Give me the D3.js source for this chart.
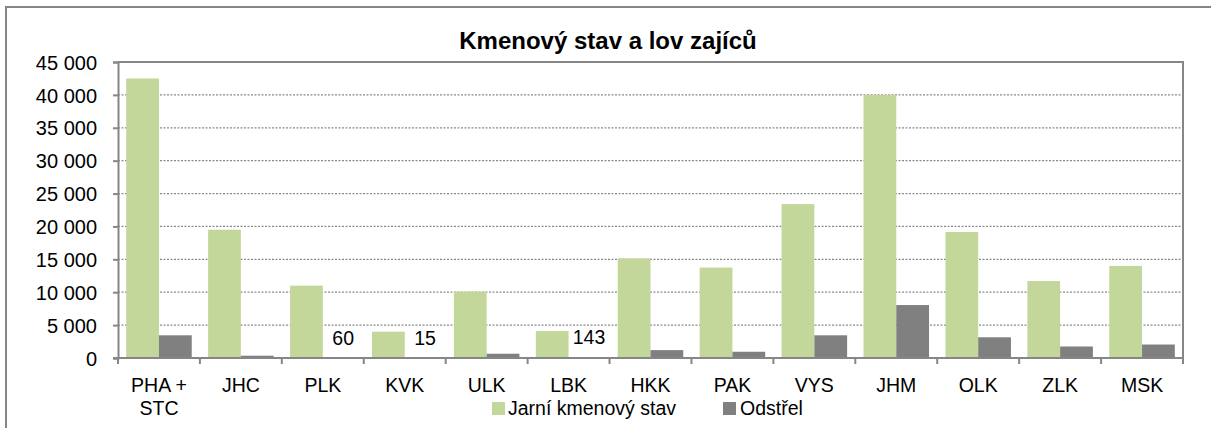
<!DOCTYPE html>
<html><head><meta charset="utf-8">
<script src="https://cdn.jsdelivr.net/npm/d3@7"></script>
<style>body{margin:0;background:#fff}svg{display:block;font-family:Arial,"Liberation Sans",sans-serif}</style>
</head><body><svg id="c" width="1211" height="428"></svg>
<script>
const categories = [["PHA +","STC"],["JHC"],["PLK"],["KVK"],["ULK"],["LBK"],["HKK"],["PAK"],["VYS"],["JHM"],["OLK"],["ZLK"],["MSK"]];
const springStock = [42500,19500,11000,4000,10100,4100,15150,13750,23400,40000,19150,11700,14000];
const harvest = [3450,350,60,15,650,143,1200,950,3450,8050,3150,1750,2050];
const labelledHarvest = [60,15,143];
const yTicks = [0,5000,10000,15000,20000,25000,30000,35000,40000,45000];
const seriesNames = ["Jarní kmenový stav","Odstřel"];
const colors = ["#c4d79b","#808080"];
const title = "Kmenový stav a lov zajíců";

const svg = d3.select("#c");
const L=118, T=62, R=1183, B=358;
const grey="#868686";
const x = d3.scaleBand().domain(d3.range(categories.length)).range([L,R]).paddingInner(0).paddingOuter(0);
const x1 = d3.scaleBand().domain([0,1]).range([0,x.bandwidth()]).paddingOuter(0.25).paddingInner(0);
const y = d3.scaleLinear().domain([0,45000]).range([B,T]);
const fmt = v => d3.format(",")(v).replace(/,/g," ");

// outer border
svg.append("rect").attr("x",6).attr("y",7).attr("width",1220).attr("height",440).attr("fill","none").attr("stroke",grey).attr("stroke-width",2);

// title
svg.append("text").attr("x",608).attr("y",49).attr("text-anchor","middle").attr("font-size",24).attr("font-weight","bold").text(title);

// gridlines
svg.append("g").selectAll("line").data(yTicks.filter(d=>d>0 && d<45000)).join("line")
  .attr("x1",L).attr("x2",R).attr("y1",d=>y(d)).attr("y2",d=>y(d))
  .attr("stroke","#8a8a8a").attr("stroke-width",1.2).attr("stroke-dasharray","2,1.5");

// plot border top/right
svg.append("path").attr("d",`M${L},${T}H${R}V${B}`).attr("fill","none").attr("stroke",grey).attr("stroke-width",2);

// bars
const g = svg.append("g");
[springStock,harvest].forEach((vals,si)=>{
  g.selectAll(null).data(vals).join("rect")
    .attr("x",(d,i)=>x(i)+x1(si)).attr("width",x1.bandwidth())
    .attr("y",d=>y(d)).attr("height",d=>B-y(d)).attr("fill",colors[si]);
});

// y axis
const ya = svg.append("g").attr("transform",`translate(${L},0)`).call(d3.axisLeft(y).tickValues(yTicks).tickFormat(fmt).tickSize(5).tickPadding(16));
ya.select(".domain").attr("stroke",grey).attr("stroke-width",2);
ya.selectAll(".tick line").attr("stroke",grey).attr("stroke-width",2);
ya.selectAll(".tick text").attr("font-size",20).attr("fill","#000").attr("font-family","Arial,'Liberation Sans',sans-serif").attr("dy","0.36em");

// x axis
svg.append("line").attr("x1",L-5).attr("x2",R).attr("y1",B).attr("y2",B).attr("stroke",grey).attr("stroke-width",2);
svg.append("g").selectAll("line").data(d3.range(categories.length+1)).join("line")
  .attr("x1",i=>L+i*x.bandwidth()).attr("x2",i=>L+i*x.bandwidth()).attr("y1",B).attr("y2",B+6)
  .attr("stroke",grey).attr("stroke-width",2);
const xl = svg.append("g").selectAll("text").data(categories).join("text")
  .attr("text-anchor","middle").attr("font-size",19.5)
  .attr("transform",(d,i)=>`translate(${x(i)+x.bandwidth()/2},392)`);
xl.selectAll("tspan").data(d=>d).join("tspan").attr("x",0).attr("dy",(d,j)=>j?23:0).text(d=>d);

// data labels for small harvest values
svg.append("g").selectAll("text").data(harvest.map((v,i)=>({v,i})).filter(d=>labelledHarvest.includes(d.v))).join("text")
  .attr("x",d=>x(d.i)+x1(1)+x1.bandwidth()/2+4).attr("y",d=>y(d.v)-13)
  .attr("text-anchor","middle").attr("font-size",19.5).text(d=>d.v);

// legend
const lg = svg.append("g");
const items=[{n:seriesNames[0],c:colors[0],sx:492,tx:508},{n:seriesNames[1],c:colors[1],sx:723,tx:740}];
items.forEach(it=>{
  lg.append("rect").attr("x",it.sx).attr("y",402).attr("width",13).attr("height",13).attr("fill",it.c);
  lg.append("text").attr("x",it.tx).attr("y",415).attr("font-size",19.5).text(it.n);
});
</script></body></html>
